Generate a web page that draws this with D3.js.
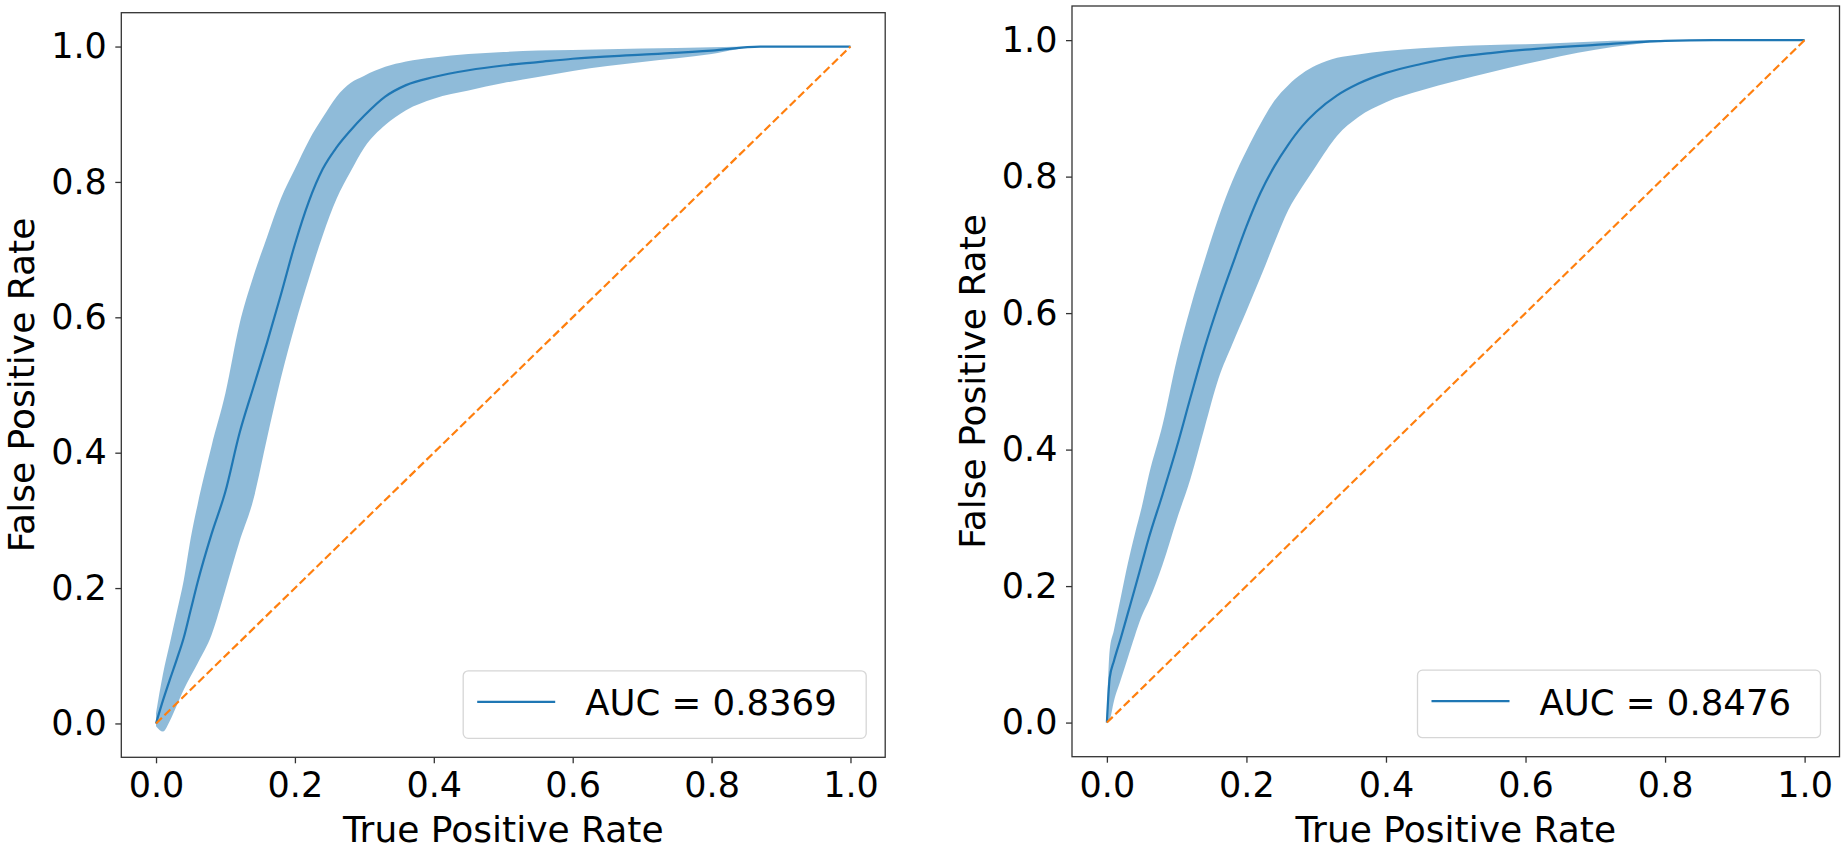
<!DOCTYPE html>
<html>
<head>
<meta charset="utf-8">
<script src="https://cdn.jsdelivr.net/npm/d3@7"></script>
<style>
  html, body { margin: 0; padding: 0; background: #ffffff; }
  svg { display: block; }
  text { font-family: "DejaVu Sans", sans-serif; fill: #000; }
</style>
</head>
<body>
<svg id="chart" width="1847" height="850"></svg>
<script>
// ---------- data ----------
const tickValues = [0.0, 0.2, 0.4, 0.6, 0.8, 1.0];
const xLabel = "True Positive Rate";
const yLabel = "False Positive Rate";
const aucLabels = ["AUC = 0.8369", "AUC = 0.8476"];

// left panel
const fprLeft   = [0, 0.01, 0.02, 0.03, 0.04, 0.05, 0.06, 0.08, 0.10, 0.12, 0.14, 0.16, 0.18, 0.20, 0.22, 0.24, 0.26, 0.28, 0.30, 0.33, 0.36, 0.40, 0.45, 0.50, 0.55, 0.60, 0.70, 0.80, 0.87, 1.0];
const meanLeft  = [0, 0.034, 0.065, 0.095, 0.127, 0.168, 0.209, 0.280, 0.343, 0.428, 0.496, 0.563, 0.634, 0.708, 0.771, 0.819, 0.851, 0.876, 0.898, 0.926, 0.943, 0.955, 0.965, 0.972, 0.977, 0.982, 0.988, 0.994, 1.0, 1.0];
const upperLeft = [0.015, 0.073, 0.119, 0.165, 0.212, 0.274, 0.324, 0.410, 0.488, 0.589, 0.660, 0.719, 0.776, 0.819, 0.861, 0.895, 0.926, 0.946, 0.957, 0.970, 0.978, 0.984, 0.989, 0.992, 0.994, 0.995, 0.997, 0.999, 1.0, 1.0];
const lowerLeft = [-0.004, -0.012, 0.004, 0.027, 0.050, 0.070, 0.089, 0.131, 0.198, 0.268, 0.330, 0.422, 0.511, 0.588, 0.657, 0.721, 0.775, 0.815, 0.851, 0.884, 0.906, 0.923, 0.935, 0.946, 0.955, 0.964, 0.977, 0.989, 1.0, 1.0];

// right panel
const fprRight   = [0, 0.004, 0.01, 0.02, 0.03, 0.04, 0.05, 0.06, 0.08, 0.10, 0.12, 0.14, 0.16, 0.18, 0.20, 0.22, 0.24, 0.26, 0.28, 0.30, 0.33, 0.36, 0.40, 0.45, 0.50, 0.55, 0.60, 0.70, 0.80, 0.87, 1.0];
const meanRight  = [0, 0.065, 0.090, 0.124, 0.160, 0.196, 0.233, 0.270, 0.335, 0.403, 0.477, 0.549, 0.613, 0.671, 0.727, 0.776, 0.815, 0.847, 0.874, 0.895, 0.919, 0.936, 0.952, 0.965, 0.975, 0.981, 0.986, 0.993, 0.999, 1.0, 1.0];
const upperRight = [0.005, 0.106, 0.135, 0.184, 0.233, 0.276, 0.316, 0.362, 0.437, 0.531, 0.609, 0.677, 0.740, 0.794, 0.838, 0.877, 0.911, 0.934, 0.951, 0.963, 0.974, 0.979, 0.984, 0.988, 0.991, 0.993, 0.994, 0.998, 1.0, 1.0, 1.0];
const lowerRight = [0, 0.004, 0.031, 0.063, 0.095, 0.127, 0.156, 0.178, 0.232, 0.297, 0.358, 0.432, 0.504, 0.555, 0.603, 0.652, 0.703, 0.751, 0.785, 0.816, 0.860, 0.887, 0.909, 0.926, 0.940, 0.953, 0.965, 0.986, 0.998, 1.0, 1.0];

const diagonal = [0, 1];

// ---------- layout ----------
const panels = [
  { box: { left: 121.3, right: 885.2, top: 12.7, bottom: 757.3 },
    fpr: fprLeft, mean: meanLeft, upper: upperLeft, lower: lowerLeft, auc: aucLabels[0] },
  { box: { left: 1072, right: 1839.5, top: 6, bottom: 756.7 },
    fpr: fprRight, mean: meanRight, upper: upperRight, lower: lowerRight, auc: aucLabels[1] }
];

const BLUE = "#1f77b4", ORANGE = "#ff7f0e", SPINE = "#333333";
const TICK_FS = 35, LABEL_FS = 36, LEGEND_FS = 35.5;

const svg = d3.select("#chart");
svg.append("rect").attr("width", 1847).attr("height", 850).attr("fill", "#fff");

panels.forEach(p => {
  const b = p.box;
  const x = d3.scaleLinear().domain([-0.05, 1.05]).range([b.left, b.right]);
  const y = d3.scaleLinear().domain([-0.05, 1.05]).range([b.bottom, b.top]);
  const g = svg.append("g");

  const pts = p.fpr.map((v, i) => ({ x: v, m: p.mean[i], u: p.upper[i], l: p.lower[i] }));

  // band
  g.append("path")
    .datum(pts)
    .attr("d", d3.area().x(d => x(d.x)).y0(d => y(d.l)).y1(d => y(d.u)).curve(d3.curveMonotoneX))
    .attr("fill", BLUE).attr("fill-opacity", 0.5).attr("stroke", "none");

  // mean line
  g.append("path")
    .datum(pts)
    .attr("d", d3.line().x(d => x(d.x)).y(d => y(d.m)).curve(d3.curveMonotoneX))
    .attr("fill", "none").attr("stroke", BLUE).attr("stroke-width", 2.2);

  // diagonal
  g.append("path")
    .datum(diagonal)
    .attr("d", d3.line().x(d => x(d)).y(d => y(d)))
    .attr("fill", "none").attr("stroke", ORANGE).attr("stroke-width", 2.2)
    .attr("stroke-dasharray", "8.2,3.6");

  // axes
  const xAxis = d3.axisBottom(x).tickValues(tickValues).tickFormat(d3.format(".1f"))
    .tickSize(6).tickPadding(9).tickSizeOuter(0);
  const yAxis = d3.axisLeft(y).tickValues(tickValues).tickFormat(d3.format(".1f"))
    .tickSize(6).tickPadding(8.5).tickSizeOuter(0);

  const gx = g.append("g").attr("transform", `translate(0,${b.bottom})`).call(xAxis);
  const gy = g.append("g").attr("transform", `translate(${b.left},0)`).call(yAxis);
  [gx, gy].forEach(a => {
    a.select(".domain").remove();
    a.selectAll(".tick line").attr("stroke", SPINE).attr("stroke-width", 1.3);
    a.selectAll(".tick text").attr("font-size", TICK_FS).attr("fill", "#000")
      .style("font-family", "'DejaVu Sans', sans-serif");
  });

  // spines
  g.append("rect")
    .attr("x", b.left).attr("y", b.top)
    .attr("width", b.right - b.left).attr("height", b.bottom - b.top)
    .attr("fill", "none").attr("stroke", SPINE).attr("stroke-width", 1.3);

  // axis labels
  g.append("text")
    .attr("x", (b.left + b.right) / 2).attr("y", 842)
    .attr("text-anchor", "middle").attr("font-size", LABEL_FS)
    .text(xLabel);
  g.append("text")
    .attr("transform", `translate(${b.left - 87},${(b.top + b.bottom) / 2}) rotate(-90)`)
    .attr("text-anchor", "middle").attr("font-size", LABEL_FS)
    .text(yLabel);

  // legend
  const lw = 403, lh = 67.5;
  const lx = b.right - 19 - lw, ly = b.bottom - 19 - lh;
  const lg = g.append("g").attr("transform", `translate(${lx},${ly})`);
  lg.append("rect").attr("width", lw).attr("height", lh).attr("rx", 5).attr("ry", 5)
    .attr("fill", "#fff").attr("fill-opacity", 0.8)
    .attr("stroke", "#d6d6d6").attr("stroke-width", 1.3);
  lg.append("line").attr("x1", 14).attr("x2", 92).attr("y1", 31).attr("y2", 31)
    .attr("stroke", BLUE).attr("stroke-width", 2.2);
  lg.append("text").attr("x", 122).attr("y", 44.5).attr("font-size", LEGEND_FS).text(p.auc);
});
</script>
</body>
</html>
